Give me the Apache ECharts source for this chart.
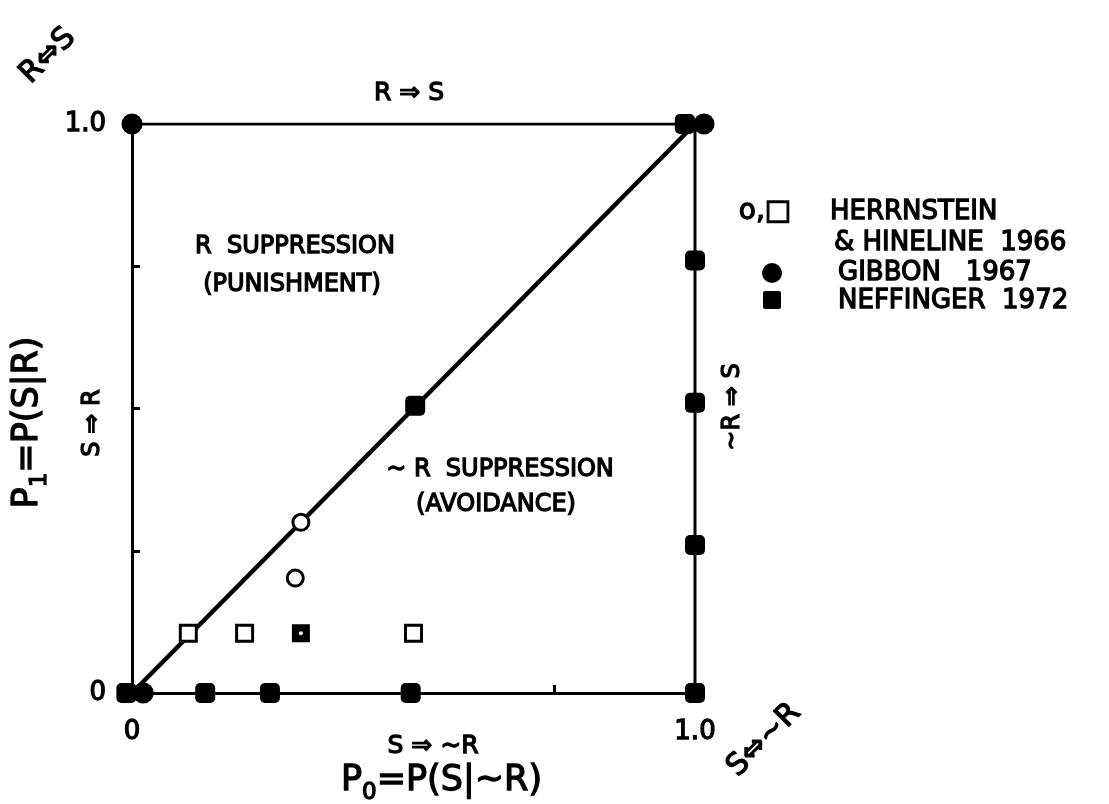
<!DOCTYPE html>
<html>
<head>
<meta charset="utf-8">
<title>Response–shock contingency space</title>
<script src="https://cdn.jsdelivr.net/npm/echarts@6/dist/echarts.min.js"></script>
<style>
  html, body { margin: 0; padding: 0; background: #fff; }
  #chart { width: 1109px; height: 804px; }
</style>
</head>
<body>
<div id="chart"></div>
<script>
// Axis ticks (P0 on x, P1 on y)
const tickValues = [0, 0.25, 0.5, 0.75, 1];
const tickLabels = { 0: '0', 1: '1.0' };

// Herrnstein & Hineline 1966: open circles and open squares
const herrnsteinCircles = [[0.30, 0.30], [0.29, 0.202]];
const herrnsteinSquares = [[0.10, 0.105], [0.20, 0.105], [0.50, 0.105]];
// overlapping point drawn dark with a light centre
const herrnsteinOverlap = [[0.30, 0.105]];

// Gibbon 1967: filled circles
const gibbon = [[0, 1], [1.016, 1], [0.02, 0]];

// Neffinger 1972: filled squares
const neffinger = [
  [-0.01, 0], [0.13, 0], [0.245, 0], [0.495, 0], [1, 0],
  [1, 0.26], [1, 0.51], [1, 0.76], [0.982, 1], [0.503, 0.505]
];

// Indifference diagonal and the upper/right edges of the unit square
const diagonal = [[0, 0], [1, 1]];
const frame = [[0, 1], [1, 1], [1, 0]];

const FONT = '"DejaVu Sans", "Liberation Sans", sans-serif';
const INK = '#000';
const STROKE = 1.3;

function label(text, x, y, size, rotation, align) {
  return {
    type: 'text', x: x, y: y, rotation: rotation || 0, z: 50,
    style: {
      text: text, fontSize: size, fontFamily: FONT, fill: INK,
      stroke: INK, lineWidth: STROKE,
      align: align || 'center', verticalAlign: 'middle'
    }
  };
}

const chart = echarts.init(document.getElementById('chart'), null, { renderer: 'canvas' });

const nameRich = {
  a: { fontSize: 35, fontFamily: FONT, color: INK, textBorderColor: INK, textBorderWidth: STROKE, lineHeight: 48, verticalAlign: 'middle' },
  s: { fontSize: 23, fontFamily: FONT, color: INK, textBorderColor: INK, textBorderWidth: STROKE, lineHeight: 48, verticalAlign: 'bottom' }
};

const axisCommon = {
  type: 'value', min: 0, max: 1, interval: 0.25,
  splitLine: { show: false },
  axisLine: { show: true, lineStyle: { color: INK, width: 3 } },
  axisTick: { show: true, inside: true, length: 8, lineStyle: { color: INK, width: 3 } },
  axisLabel: {
    color: INK, fontSize: 26, fontFamily: FONT, margin: 26,
    textBorderColor: INK, textBorderWidth: STROKE,
    formatter: v => tickLabels[v] !== undefined ? tickLabels[v] : ''
  }
};

const option = {
  backgroundColor: '#fff',
  animation: false,
  grid: { left: 132, right: 414, top: 124, bottom: 111, containLabel: false, outerBoundsMode: 'none' },
  xAxis: Object.assign({}, axisCommon, {
    name: '{a|P}{s|0}{a|=P(S|~R)}',
    nameLocation: 'middle', nameGap: 64,
    nameTextStyle: { fontFamily: FONT, color: INK, padding: [0, 0, 0, 56], rich: nameRich }
  }),
  yAxis: Object.assign({}, axisCommon, {
    name: '{a|P}{s|1}{a|=P(S|R)}',
    nameLocation: 'middle', nameGap: 80, nameRotate: 90,
    nameTextStyle: { fontFamily: FONT, color: INK, padding: [0, 28, 0, 0], rich: nameRich }
  }),
  series: [
    {
      type: 'line', data: frame, symbol: 'none', silent: true, z: 1,
      lineStyle: { color: INK, width: 3 }
    },
    {
      type: 'line', data: diagonal, symbol: 'none', silent: true, z: 1,
      lineStyle: { color: INK, width: 4.5 }
    },
    {
      name: 'NEFFINGER 1972', type: 'scatter', data: neffinger, clip: false, z: 5,
      symbol: 'roundRect', symbolSize: 20, itemStyle: { color: INK, opacity: 1 }
    },
    {
      name: 'GIBBON 1967', type: 'scatter', data: gibbon, clip: false, z: 6,
      symbol: 'circle', symbolSize: 21, itemStyle: { color: INK, opacity: 1 }
    },
    {
      name: 'HERRNSTEIN', type: 'scatter', data: herrnsteinCircles, clip: false, z: 6,
      symbol: 'circle', symbolSize: 16,
      itemStyle: { color: '#fff', borderColor: INK, borderWidth: 3, opacity: 1 }
    },
    {
      name: 'HERRNSTEIN', type: 'scatter', data: herrnsteinSquares, clip: false, z: 6,
      symbol: 'rect', symbolSize: 16,
      itemStyle: { color: '#fff', borderColor: INK, borderWidth: 3, opacity: 1 }
    },
    {
      type: 'scatter', data: herrnsteinOverlap, clip: false, z: 6,
      symbol: 'rect', symbolSize: 18, itemStyle: { color: INK, opacity: 1 }
    },
    {
      type: 'scatter', data: herrnsteinOverlap, clip: false, z: 7,
      symbol: 'circle', symbolSize: 4, itemStyle: { color: '#fff', opacity: 1 }
    }
  ],
  graphic: [
    // edge labels
    label('R \u21D2 S', 409, 93, 25),
    label('S \u21D2 ~R', 433, 746, 25),
    label('S \u21D2 R', 93, 423, 24, Math.PI / 2),
    label('~R \u21D2 S', 733, 407, 24, Math.PI / 2),
    label('R\u21D4S', 48, 56, 30, Math.PI / 4),
    label('S\u21D4~R', 764, 740, 30, Math.PI / 4),
    // region labels
    label('R  SUPPRESSION', 295, 247, 24),
    label('(PUNISHMENT)', 292, 285, 24),
    label('~ R  SUPPRESSION', 500, 470, 24),
    label('(AVOIDANCE)', 496, 505, 24),
    // key
    label('o,\u25A1', 765, 212, 28),
    label('HERRNSTEIN', 830, 212, 26, 0, 'left'),
    label('& HINELINE  1966', 834, 243, 26, 0, 'left'),
    { type: 'circle', z: 50, shape: { cx: 772, cy: 273, r: 10 }, style: { fill: INK } },
    label('GIBBON   1967', 838, 273, 26, 0, 'left'),
    { type: 'rect', z: 50, shape: { x: 763, y: 291, width: 18, height: 18, r: 2 }, style: { fill: INK } },
    label('NEFFINGER  1972', 838, 301, 26, 0, 'left')
  ]
};

chart.setOption(option);
</script>
</body>
</html>
